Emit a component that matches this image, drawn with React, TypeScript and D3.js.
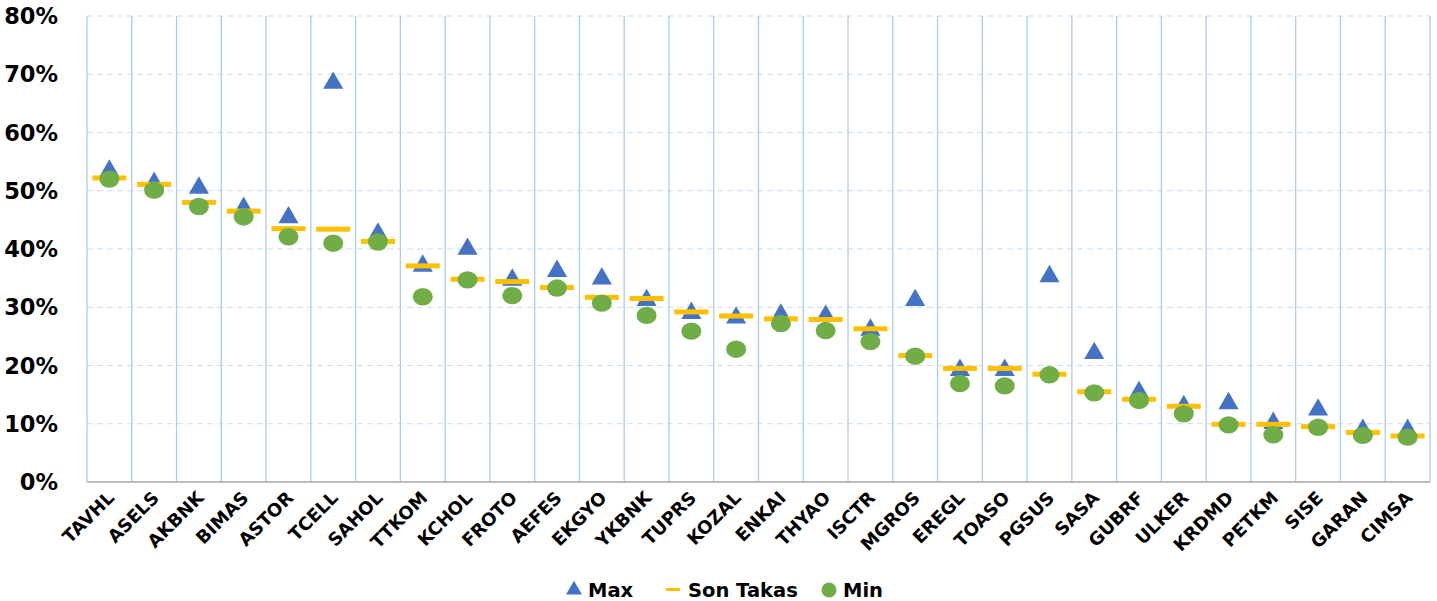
import React from 'react';
import * as d3 from 'd3';

const categories = ['TAVHL', 'ASELS', 'AKBNK', 'BIMAS', 'ASTOR', 'TCELL', 'SAHOL', 'TTKOM', 'KCHOL', 'FROTO',
  'AEFES', 'EKGYO', 'YKBNK', 'TUPRS', 'KOZAL', 'ENKAI', 'THYAO', 'ISCTR', 'MGROS', 'EREGL',
  'TOASO', 'PGSUS', 'SASA', 'GUBRF', 'ULKER', 'KRDMD', 'PETKM', 'SISE', 'GARAN', 'CIMSA'];

const maxValues = [53.4, 51.3, 50.5, 47.0, 45.4, 68.5, 42.6, 37.1, 40.0, 34.7,
  36.2, 34.9, 31.2, 29.0, 28.2, 28.7, 28.5, 26.1, 31.2, 19.2,
  19.2, 35.3, 22.1, 15.4, 13.0, 13.5, 10.1, 12.4, 8.9, 8.9];

const sonTakas = [52.2, 51.1, 48.0, 46.5, 43.5, 43.4, 41.3, 37.1, 34.8, 34.4,
  33.4, 31.7, 31.5, 29.2, 28.5, 28.0, 27.9, 26.3, 21.7, 19.5,
  19.5, 18.5, 15.5, 14.2, 13.0, 9.9, 9.9, 9.5, 8.5, 7.9];

const minValues = [52.0, 50.1, 47.3, 45.5, 42.1, 41.0, 41.2, 31.8, 34.7, 32.0,
  33.3, 30.7, 28.6, 25.9, 22.8, 27.2, 26.0, 24.1, 21.6, 16.9,
  16.5, 18.4, 15.3, 14.0, 11.7, 9.8, 8.1, 9.4, 8.0, 7.7];

const yTicks = [0, 10, 20, 30, 40, 50, 60, 70, 80];

const W = 1437;
const H = 601;
const left = 87;
const right = 1430;
const top = 16;
const bottom = 482;

const BLUE = '#4472C4';
const ORANGE = '#FFC000';
const GREEN = '#70AD47';
const FONT = 'DejaVu Sans, Verdana, sans-serif';

export default function App() {
  const x = d3.scaleBand<string>().domain(categories).range([left, right]).padding(0);
  const y = d3.scaleLinear().domain([0, 80]).range([bottom, top]);
  const tri = d3.symbol(d3.symbolTriangle, 175)()!;
  const bw = x.bandwidth();

  return (
    <svg width={W} height={H} style={{ position: 'absolute', left: 0, top: 0 }}>
      <rect width={W} height={H} fill="#fff" />
      {/* horizontal dashed grid */}
      {yTicks.filter(t => t > 0).map(t => (
        <line key={'h' + t} x1={left} x2={right} y1={y(t)} y2={y(t)}
          stroke="#C9DDF2" strokeWidth={1.2} strokeDasharray="6,4" />
      ))}
      {/* vertical grid at category boundaries */}
      {categories.map(c => (
        <line key={'v' + c} x1={x(c)!} x2={x(c)!} y1={top} y2={bottom}
          stroke="#ADCBEA" strokeWidth={1.3} />
      ))}
      <line x1={right} x2={right} y1={top} y2={bottom} stroke="#ADCBEA" strokeWidth={1.3} />
      {/* x axis */}
      <line x1={left} x2={right} y1={bottom} y2={bottom} stroke="#A6A6A6" strokeWidth={1.5} />

      {yTicks.map(t => (
        <text key={'yt' + t} x={58} y={y(t)} dy="0.36em" textAnchor="end"
          fontFamily={FONT} fontWeight="bold" fontSize={22.5} fill="#000">{t}%</text>
      ))}

      {categories.map(c => {
        const cx = x(c)! + bw / 2;
        return (
          <text key={'xl' + c} transform={`translate(${cx + 6},${bottom + 17}) rotate(-45)`}
            textAnchor="end" fontFamily={FONT} fontWeight="bold" fontSize={18} fill="#000">{c}</text>
        );
      })}

      {categories.map((c, i) => {
        const cx = x(c)! + bw / 2;
        return (
          <g key={'m' + c}>
            <path d={tri} transform={`translate(${cx},${y(maxValues[i])})`} fill={BLUE} />
            <rect x={cx - 17} y={y(sonTakas[i]) - 2.5} width={34} height={5} fill={ORANGE} />
            <ellipse cx={cx} cy={y(minValues[i])} rx={10} ry={8.7} fill={GREEN} />
          </g>
        );
      })}

      {/* legend */}
      <g fontFamily={FONT} fontWeight="bold" fontSize={19.5} fill="#000">
        <path d={d3.symbol(d3.symbolTriangle, 110)()!} transform="translate(574,590)" fill={BLUE} />
        <text x={588} y={597}>Max</text>
        <rect x={666} y={588} width={14} height={3} fill={ORANGE} />
        <text x={688} y={597}>Son Takas</text>
        <circle cx={829} cy={590} r={7.5} fill={GREEN} />
        <text x={843} y={597}>Min</text>
      </g>
    </svg>
  );
}
